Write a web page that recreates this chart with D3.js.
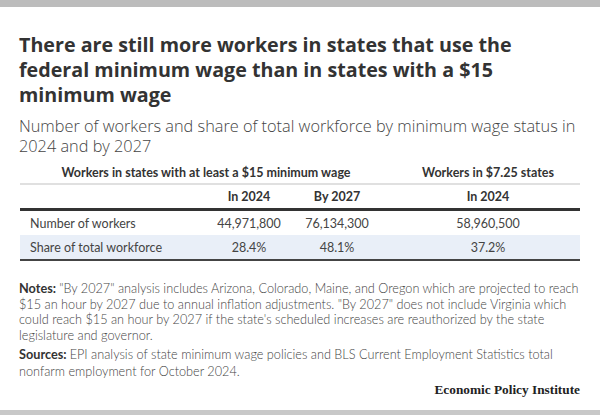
<!DOCTYPE html>
<html><head><meta charset="utf-8">
<script src="https://cdn.jsdelivr.net/npm/d3@7"></script>
<style>body{margin:0;background:#fff;overflow:hidden} svg{display:block}</style>
</head><body>
<script>
// ---- data ----
const titleLines = [
  "There are still more workers in states that use the",
  "federal minimum wage than in states with a $15",
  "minimum wage"
];
const subtitleLines = [
  "Number of workers and share of total workforce by minimum wage status in",
  "2024 and by 2027"
];
const groupHeaders = ["Workers in states with at least a $15 minimum wage", "Workers in $7.25 states"];
const columnHeaders = ["In 2024", "By 2027", "In 2024"];
const rowLabels = ["Number of workers", "Share of total workforce"];
const workers = [44971800, 76134300, 58960500];
const shares = [28.4, 48.1, 37.2];
const notesLines = [
  [["Notes: ", true], ["\"By 2027\" analysis includes Arizona, Colorado, Maine, and Oregon which are projected to reach", false]],
  [["$15 an hour by 2027 due to annual inflation adjustments. \"By 2027\" does not include Virginia which", false]],
  [["could reach $15 an hour by 2027 if the state's scheduled increases are reauthorized by the state", false]],
  [["legislature and governor.", false]]
];
const sourcesLines = [
  [["Sources: ", true], ["EPI analysis of state minimum wage policies and BLS Current Employment Statistics total", false]],
  [["nonfarm employment for October 2024.", false]]
];
const credit = "Economic Policy Institute";

// ---- layout ----
const W = 600, H = 415;
const L = 20, R = 580;
const sans = "Lato, 'Open Sans', sans-serif";
const openSans = "'Open Sans', Lato, sans-serif";
const svg = d3.select("body").append("svg").attr("width", W).attr("height", H);

svg.append("rect").attr("x", 0).attr("y", 0).attr("width", W).attr("height", 7).attr("fill", "#bcbcbc");
svg.append("rect").attr("x", 0).attr("y", 410).attr("width", W).attr("height", 5).attr("fill", "#c8c8c8");

// fit a block's font size so its first line spans the target width
function fitBlock(g, targetWidth, baseSize) {
  const first = g.select("text").node();
  const w = first.getComputedTextLength();
  if (w > 0) g.attr("font-size", baseSize * targetWidth / w);
}

// title
const titleG = svg.append("g").attr("font-family", openSans).attr("font-weight", 700)
  .attr("font-size", 20).attr("fill", "#333");
titleG.selectAll("text").data(titleLines).join("text")
  .attr("x", 19).attr("y", (d, i) => 52 + i * 25).text(d => d);
fitBlock(titleG, 493, 20);

// subtitle
const subG = svg.append("g").attr("font-family", openSans).attr("font-weight", 300)
  .attr("font-size", 15).attr("fill", "#444");
subG.selectAll("text").data(subtitleLines).join("text")
  .attr("x", 19).attr("y", (d, i) => 132 + i * 20).text(d => d);
fitBlock(subG, 557, 15);

// table
const colX = d3.scaleOrdinal().domain(d3.range(columnHeaders.length)).range([249, 337, 488]);
const groupX = d3.scaleOrdinal().domain(d3.range(groupHeaders.length)).range([206, 488]);
const rowY = d3.scaleBand().domain(rowLabels).range([211, 259]).paddingInner(0);

const tbl = svg.append("g").attr("font-family", sans).attr("font-size", 12.5);

tbl.selectAll("text.gh").data(groupHeaders).join("text").attr("class", "gh")
  .attr("x", (d, i) => groupX(i)).attr("y", 176.5).attr("text-anchor", "middle")
  .attr("font-weight", 700).attr("fill", "#333").text(d => d);

tbl.append("rect").attr("x", L).attr("y", 183).attr("width", R - L).attr("height", 2).attr("fill", "#e0e0e0");

tbl.selectAll("text.ch").data(columnHeaders).join("text").attr("class", "ch")
  .attr("x", (d, i) => colX(i)).attr("y", 201).attr("text-anchor", "middle")
  .attr("font-weight", 700).attr("fill", "#333").text(d => d);

// row backgrounds
tbl.selectAll("rect.rowbg").data(rowLabels).join("rect").attr("class", "rowbg")
  .attr("x", L).attr("y", d => rowY(d)).attr("width", R - L).attr("height", rowY.bandwidth())
  .attr("fill", (d, i) => i % 2 ? "#e9eff8" : "#ffffff");

tbl.append("rect").attr("x", L).attr("y", 208).attr("width", R - L).attr("height", 3).attr("fill", "#333");
tbl.append("rect").attr("x", L).attr("y", 259).attr("width", R - L).attr("height", 2).attr("fill", "#444");

tbl.selectAll("text.rl").data(rowLabels).join("text").attr("class", "rl")
  .attr("x", 30).attr("y", d => rowY(d) + 16.5)
  .attr("font-weight", 400).attr("fill", "#444").text(d => d);

const fmtN = d3.format(",");
const rows = [workers.map(v => fmtN(v)), shares.map(v => d3.format(".1f")(v) + "%")];
rows.forEach((vals, r) => {
  tbl.append("g").selectAll("text").data(vals).join("text")
    .attr("x", (d, i) => colX(i)).attr("y", rowY(rowLabels[r]) + 16.5)
    .attr("text-anchor", "middle").attr("font-weight", 400).attr("fill", "#444").text(d => d);
});

// notes
function drawLines(lines, y0, lh) {
  const g = svg.append("g").attr("font-family", sans).attr("font-size", 12.3).attr("fill", "#444");
  lines.forEach((segs, i) => {
    const t = g.append("text").attr("x", 19).attr("y", y0 + i * lh);
    segs.forEach(([s, b]) => t.append("tspan").attr("font-weight", b ? 700 : 300)
      .attr("fill", b ? "#333" : "#444").text(s));
  });
  return g;
}
const notesG = drawLines(notesLines, 293, 15.6);
fitBlock(notesG, 560, 12.3);
const srcG = drawLines(sourcesLines, 359, 16.5);
srcG.attr("font-size", notesG.attr("font-size"));

svg.append("text").attr("x", 580).attr("y", 394).attr("text-anchor", "end")
  .attr("font-family", "'Liberation Serif', 'DejaVu Serif', serif").attr("font-weight", 700)
  .attr("font-size", 13.3).attr("fill", "#222").text(credit);
</script>
</body></html>
